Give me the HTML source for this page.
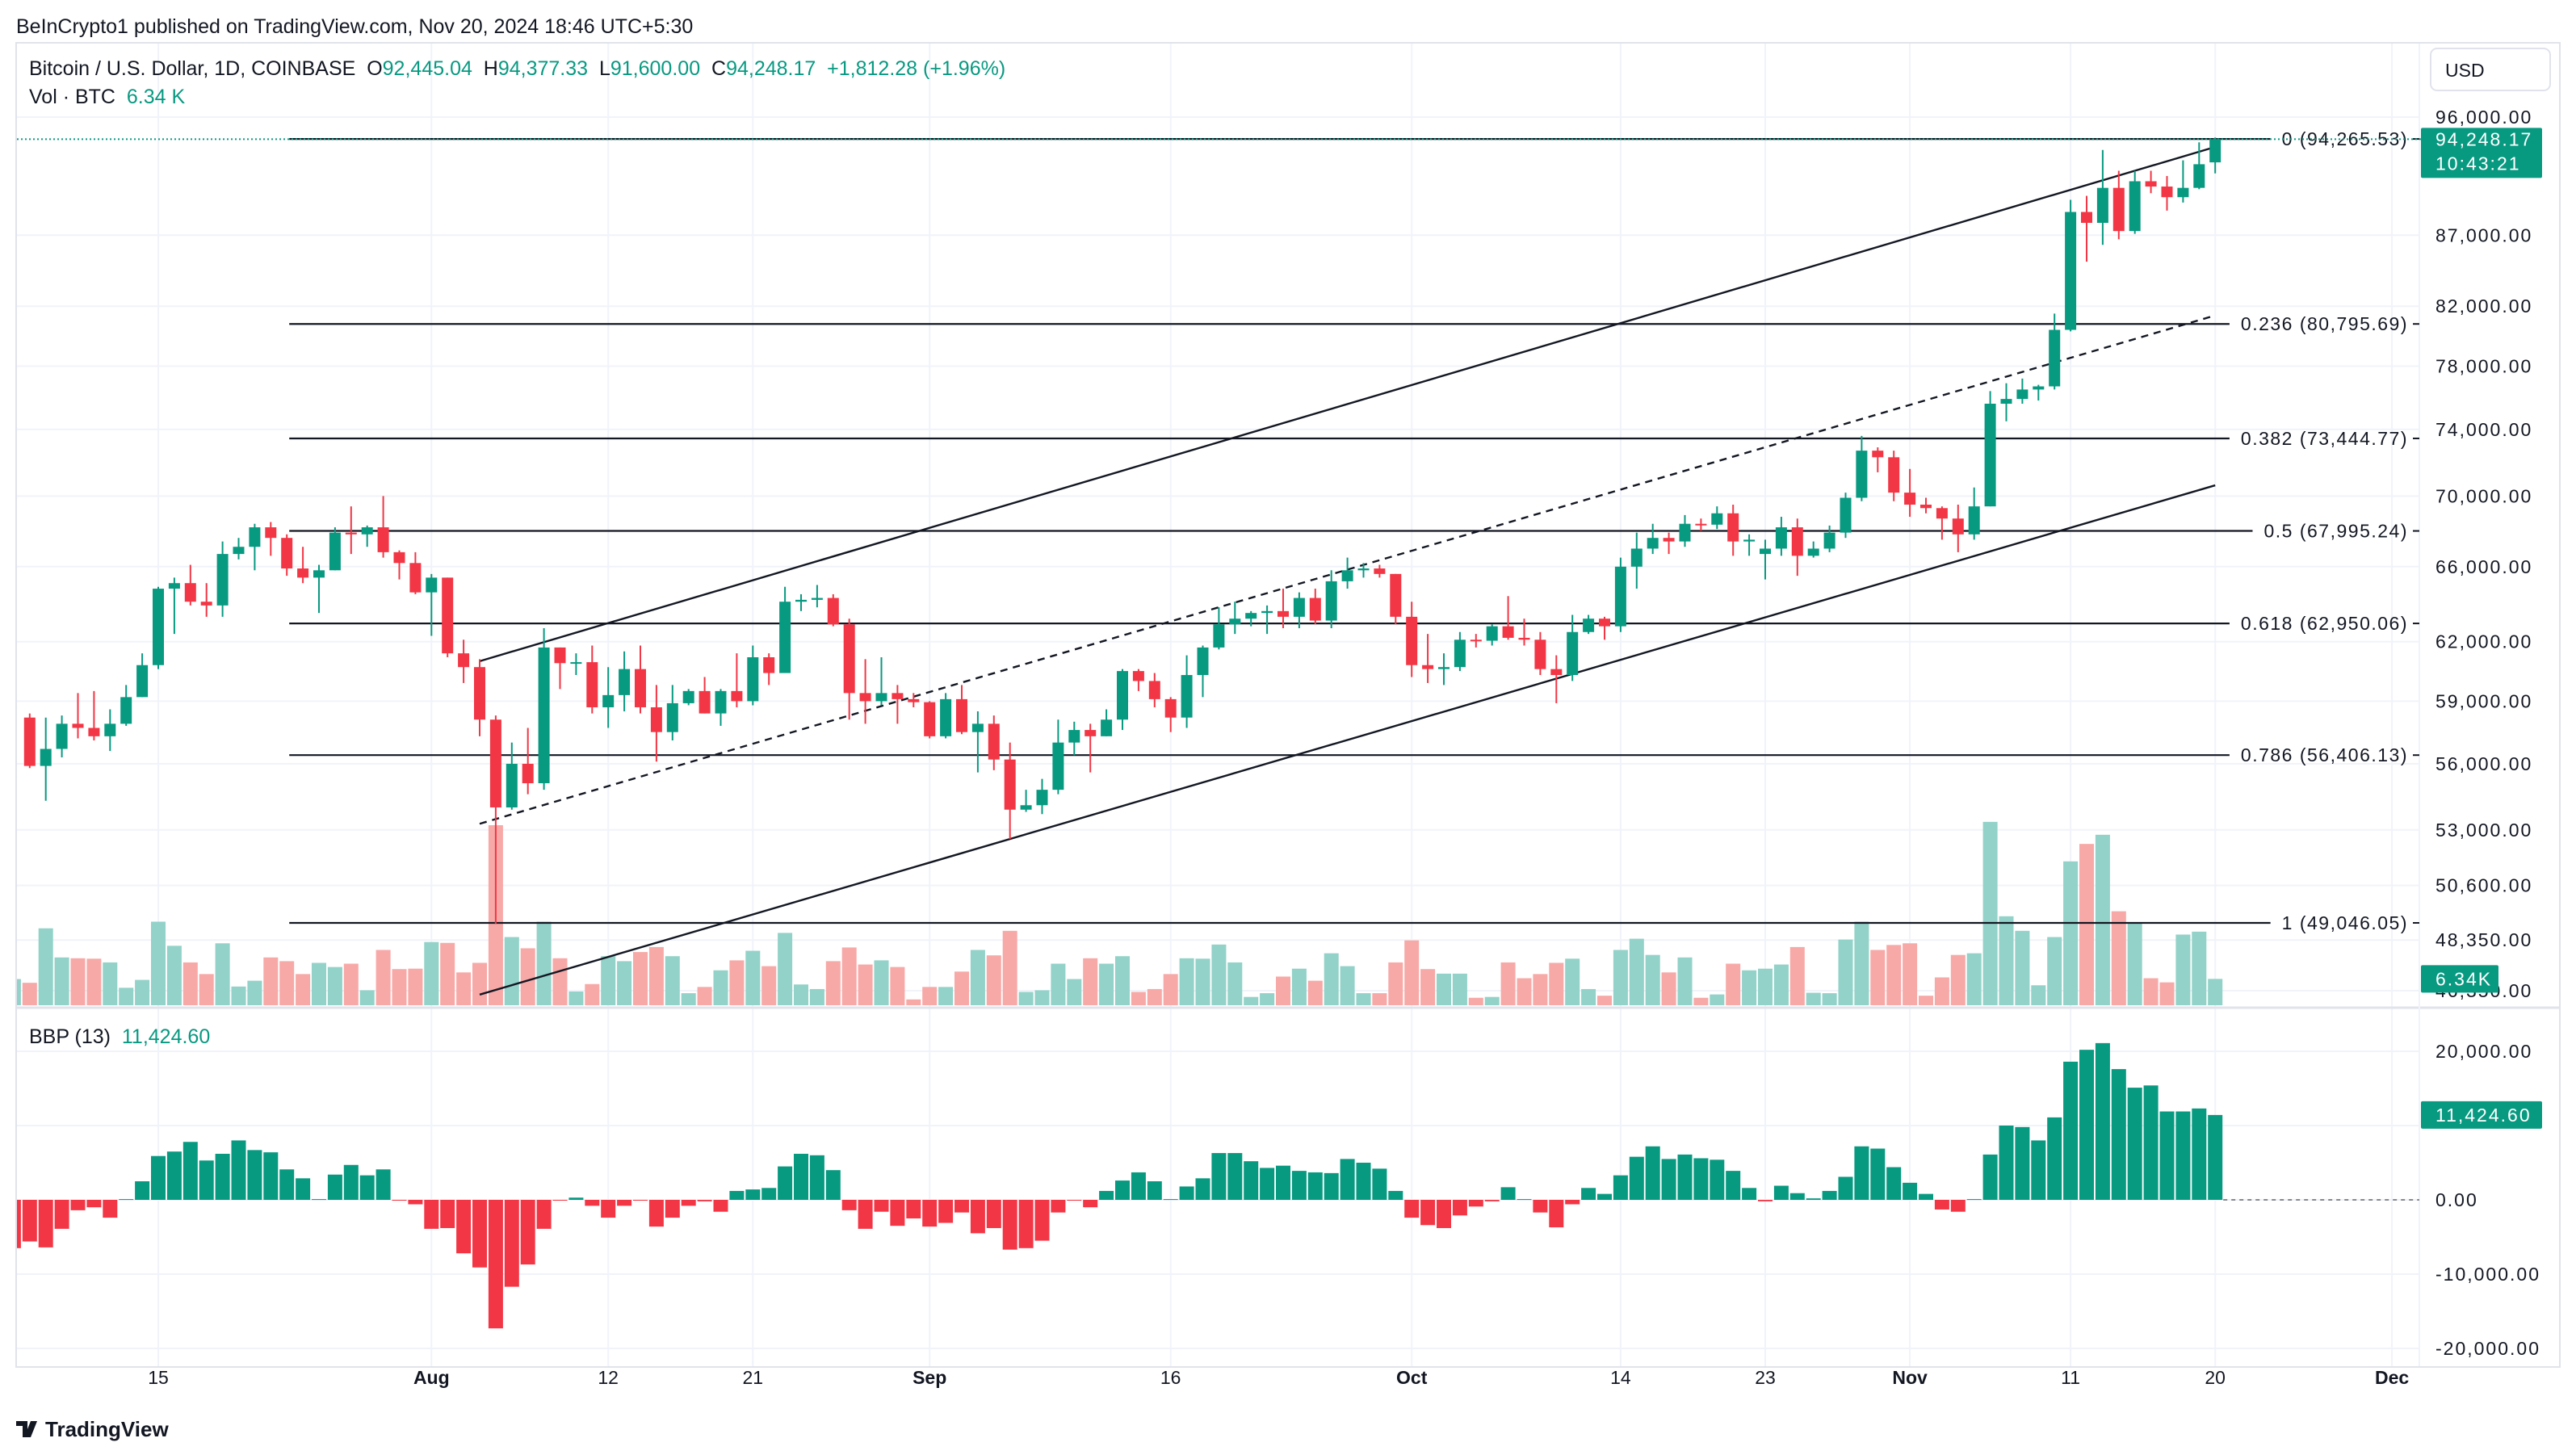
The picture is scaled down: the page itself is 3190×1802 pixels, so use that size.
<!DOCTYPE html>
<html><head><meta charset="utf-8"><style>
html,body{margin:0;padding:0;background:#fff;}
svg{display:block;font-family:"Liberation Sans",Arial,sans-serif;}
</style></head><body>
<svg id="chart" width="3190" height="1802" viewBox="0 0 3190 1802" xmlns="http://www.w3.org/2000/svg">
<rect x="0" y="0" width="3190" height="1802" fill="#ffffff"/>
<text x="20" y="41" font-size="25" fill="#131722">BeInCrypto1 published on TradingView.com, Nov 20, 2024 18:46 UTC+5:30</text>
<rect x="20" y="53" width="3150" height="1640" fill="none" stroke="#e0e3eb" stroke-width="2"/>
<g id="grid"></g>
<g id="vol"></g>
<g id="fib"></g>
<g id="trend"></g>
<g id="candles"></g>
<g id="bbp"></g>
<g id="axes"></g>
<text x="36" y="93" font-size="25" fill="#131722" xml:space="preserve">Bitcoin / U.S. Dollar, 1D, COINBASE  <tspan>O</tspan><tspan fill="#089981">92,445.04</tspan>  <tspan>H</tspan><tspan fill="#089981">94,377.33</tspan>  <tspan>L</tspan><tspan fill="#089981">91,600.00</tspan>  <tspan>C</tspan><tspan fill="#089981">94,248.17  +1,812.28 (+1.96%)</tspan></text>
<text x="36" y="128" font-size="25" fill="#131722" xml:space="preserve">Vol · BTC  <tspan fill="#089981">6.34 K</tspan></text>
<text x="36" y="1292" font-size="25" fill="#131722" xml:space="preserve">BBP (13)  <tspan fill="#089981">11,424.60</tspan></text>
<rect x="3010" y="60" width="148" height="52" rx="8" fill="#fff" stroke="#e0e3eb" stroke-width="2"/>
<text x="3028" y="95" font-size="23" fill="#131722">USD</text>
<g>
<path d="M20 1760 h14 v20 h-6 v-14 h-8z M38 1760 h8 l-8 20 h-8z" fill="#131722"/>
<text x="56" y="1779" font-size="26" font-weight="bold" fill="#131722">TradingView</text>
</g>
<script>
const startDay = -9;
const opens = [56600,58200,55900,56700,57900,57700,57300,57900,59200,
60800,64800,65100,64100,63900,66700,67100,68200,67600,65900,
65400,65800,67900,67800,68200,66800,66200,64600,65400,61400,
60700,58100,54000,56000,55100,61700,60900,60950,58700,59300,
60600,58700,57500,58900,59500,58400,59500,59000,61200,60400,
64100,64200,64300,62900,59400,59000,59400,59100,58950,57300,
59100,57500,57900,56200,53900,54100,54800,57000,57600,57300,
58100,60500,60000,59100,58200,60300,61700,62900,63200,63500,
63600,63300,64300,63100,65200,65800,65900,65600,63300,60800,
60600,60700,62100,62050,62800,62200,62100,60600,60300,62500,
63200,62800,66000,67000,67600,67400,68400,68350,69000,67400,
66700,67000,68200,66600,67000,67900,69900,72700,72300,70200,
69500,69300,68700,67800,69400,75600,75900,76500,76700,80400,
88700,87900,90500,87300,91000,90600,89800,90500,92445];
const highs = [58400,58400,58200,58300,59400,59500,58600,59800,61400,
64900,65400,66100,65100,67400,67600,68400,68500,67800,67100,
66100,68200,69400,68300,70000,66900,66800,65600,65400,62100,
61100,58300,57000,57700,62700,61700,61400,61800,60700,61500,
61800,59800,59800,59600,60200,59600,61400,61800,61400,64900,
64500,65000,64500,63200,61100,61200,59800,59400,59000,59400,
59800,58500,58300,57000,54800,55300,58100,58000,57900,58600,
60600,60600,60400,59200,61300,61800,63800,64100,63600,63900,
64800,64600,64800,65800,66500,66200,66100,65600,64100,62400,
61400,62500,62400,62900,64400,63200,62500,61300,63400,63400,
63300,66500,67900,68400,67900,68900,68700,69400,69500,67800,
67500,68800,68700,67400,68300,70200,73600,72900,72700,71600,
69900,69400,69500,70500,76400,76900,77200,76800,81500,89600,
89900,93400,91800,91800,91800,91400,92600,94000,94377];
const lows = [56100,55800,54300,56300,57200,57100,56600,57800,59200,
60600,62400,63900,63300,63300,66400,65800,66600,65500,65100,
63500,65800,66700,67100,66500,65300,64500,62300,61200,59900,
57300,49000,53900,54600,54800,59600,60300,58400,57700,58500,
58400,56100,57100,58800,58400,57800,58700,58800,59800,60400,
63600,63800,62800,58100,57900,58800,57900,58700,57200,57200,
57400,55600,55700,52600,53800,53700,54600,56400,55600,57300,
57600,59500,58700,57500,57700,59200,61600,62400,62800,62400,
62700,62700,62900,62700,64800,65400,65400,62900,60200,59900,
59800,60500,61700,61800,62100,61800,60300,58900,60000,62400,
62100,62500,64800,66700,66700,67100,68000,68100,66600,66600,
65300,66600,65500,66500,66800,67600,69700,71400,69700,68800,
69000,67500,66800,67500,69400,74500,75600,75800,76500,80300,
85100,86300,86700,87100,90100,88800,89400,90400,91600];
const closes = [58200,55900,56700,57900,57700,57300,57900,59200,60800,
64800,65100,64100,63900,66700,67100,68200,67600,65900,65400,
65800,67900,67800,68200,66800,66200,64600,65400,61400,60700,
58100,54000,56000,55100,61700,60900,60950,58700,59300,60600,
58700,57500,58900,59500,58400,59500,59000,61200,60400,64100,
64200,64300,62900,59400,59000,59400,59100,58950,57300,59100,
57500,57900,56200,53900,54100,54800,57000,57600,57300,58100,
60500,60000,59100,58200,60300,61700,62900,63200,63500,63600,
63300,64300,63100,65200,65800,65900,65600,63300,60800,60600,
60700,62100,62050,62800,62200,62100,60600,60300,62500,63200,
62800,66000,67000,67600,67400,68400,68350,69000,67400,67500,
67000,68200,66600,67000,67900,69900,72700,72300,70200,69500,
69300,68700,67800,69400,75600,75900,76500,76700,80400,88700,
87900,90500,87300,91000,90600,89800,90500,92300,94248];
const volumes = [6.3,5.4,18.5,11.5,11.3,11.2,10.3,4.2,6.1,
20.1,14.3,10.3,7.5,14.9,4.5,5.9,11.5,10.6,7.5,
10.2,9.2,10.0,3.6,13.3,8.7,8.8,15.2,15.0,7.9,
10.2,43.3,16.4,13.7,20.1,11.3,3.3,5.1,11.8,10.6,
12.8,14.0,11.8,2.9,4.4,8.4,10.8,13.1,9.4,17.4,
5.0,3.9,10.6,13.9,9.8,10.8,9.2,1.4,4.4,4.4,
8.1,13.3,12.0,17.9,3.2,3.6,10.0,6.3,11.3,10.0,
11.8,3.2,3.9,7.5,11.3,11.2,14.6,10.3,2.0,2.9,
6.9,8.8,5.9,12.5,9.4,2.9,2.9,10.3,15.6,8.7,
7.6,7.6,1.8,2.0,10.3,6.5,7.5,10.2,11.2,3.9,
2.3,13.3,16.0,12.1,7.9,11.5,1.8,2.6,10.0,8.4,
8.8,9.8,14.0,3.0,2.9,15.8,20.1,13.3,14.5,14.9,
2.3,6.7,12.1,12.5,44.1,21.4,17.9,4.8,16.4,34.6,
38.8,41.0,22.6,19.7,6.5,5.5,17.0,17.7,6.34];
const bbpValues = [-6.5,-5.6,-6.4,-3.9,-1.4,-1.0,-2.4,0.1,2.5,
5.9,6.5,7.8,5.3,6.2,8.0,6.7,6.4,4.1,2.9,
0.1,3.4,4.7,3.3,4.1,-0.1,-0.6,-3.9,-3.8,-7.2,
-9.1,-17.3,-11.7,-8.7,-3.9,-0.1,0.3,-0.8,-2.4,-0.8,
-0.1,-3.6,-2.4,-0.8,-0.2,-1.6,1.2,1.4,1.6,4.5,
6.2,6.0,4.0,-1.4,-3.9,-1.6,-3.5,-2.5,-3.6,-3.1,
-1.7,-4.5,-3.8,-6.7,-6.5,-5.5,-1.7,-0.1,-1.0,1.2,
2.6,3.7,2.5,0.1,1.8,2.9,6.3,6.3,5.2,4.3,
4.6,3.9,3.7,3.6,5.5,5.0,4.2,1.2,-2.4,-3.4,
-3.8,-2.1,-0.9,-0.2,1.7,0.1,-1.7,-3.7,-0.6,1.6,
0.8,3.3,5.8,7.2,5.5,6.1,5.6,5.4,3.9,1.6,
-0.2,1.9,0.9,0.2,1.2,3.1,7.2,6.9,4.4,2.3,
0.8,-1.3,-1.6,0.1,6.1,10.0,9.8,8.0,11.1,18.6,
20.2,21.1,17.6,15.1,15.4,11.9,11.9,12.3,11.4246];
const priceTicks = [96000,87000,82000,78000,74000,70000,66000,62000,59000,56000,53000,50600,48350,46350];
const bbpTicks = [20000,10000,0,-10000,-20000];
const bbpTickLabels = ["20,000.00","","0.00","-10,000.00","-20,000.00"];
const dateTickDays = [0,17,28,37,48,63,78,91,100,109,119,128,139];
const dateTickLabels = ["15","Aug","12","21","Sep","16","Oct","14","23","Nov","11","20","Dec"];
const dateTickBold = [false,true,false,false,true,false,true,false,false,true,false,false,true];
const fibLevels = ["0","0.236","0.382","0.5","0.618","0.786","1"];
const fibPrices = [94265.53,80795.69,73444.77,67995.24,62950.06,56406.13,49046.05];
const fibStartDay = 8;
const channelDays = [20,128];
const upperChannel = [61000,93640];
const midChannel = [53270,81370];
const lowerChannel = [46200,70630];
const lastPrice = 94248.17;
const lastVolumeLabel = "6.34K";
const lastBbpLabel = "11,424.60";

const NS = "http://www.w3.org/2000/svg";
const X0 = 196, DX = 19.9;
const xOf = d => X0 + DX * d;
const yOf = p => 145 + 1486 * (Math.log(96000) - Math.log(p));
const VOL_BASE = 1245, VOL_K = 5.15;
const yVol = v => VOL_BASE - v * VOL_K;
const BBP_ZERO = 1486, BBP_SCALE = 0.0092;
const yBbp = v => BBP_ZERO - v * BBP_SCALE;
const PLOT_L = 21, PLOT_R = 2996;
const UP = "#089981", DN = "#f23645";
const AX_X = 3016, TAG_X = 2998;
const FIB_END = 2982;

function mk(tag, attrs, parent) {
  const e = document.createElementNS(NS, tag);
  for (const k in attrs) e.setAttribute(k, attrs[k]);
  parent.appendChild(e);
  return e;
}
const gGrid = document.getElementById("grid");
const gVol = document.getElementById("vol");
const gFib = document.getElementById("fib");
const gTrend = document.getElementById("trend");
const gC = document.getElementById("candles");
const gB = document.getElementById("bbp");
const gAx = document.getElementById("axes");

priceTicks.forEach(p => {
  const l = mk("line", {x1: PLOT_L, x2: PLOT_R, y1: yOf(p), y2: yOf(p), stroke: "#f0f3fa", "stroke-width": 2}, gGrid);
  
  
});
bbpTicks.forEach(v => {
  const l = mk("line", {x1: PLOT_L, x2: PLOT_R, y1: yBbp(v), y2: yBbp(v), stroke: "#f0f3fa", "stroke-width": 2}, gGrid);
  
  
});
dateTickDays.forEach(d => {
  const l = mk("line", {x1: xOf(d), x2: xOf(d), y1: 54, y2: 1692, stroke: "#f0f3fa", "stroke-width": 2}, gGrid);
  
  
});
const sep = mk("line", {x1: 20, x2: 3170, y1: 1248, y2: 1248, stroke: "#e0e3eb", "stroke-width": 3}, gGrid);


const axSep = mk("line", {x1: PLOT_R, x2: PLOT_R, y1: 54, y2: 1692, stroke: "#f0f3fa", "stroke-width": 2}, gGrid);



volumes.forEach((v, i) => {
  const d = startDay + i;
  const up = closes[i] >= opens[i];
  const x = Math.max(PLOT_L, xOf(d) - 9);
  const w = xOf(d) + 9 - x;
  const r = mk("rect", {x: x, y: yVol(v), width: w, height: VOL_BASE - yVol(v), fill: up ? "#92d2c8" : "#f7a9a7"}, gVol);
  
  
});

fibLevels.forEach((lv, i) => {
  const y = yOf(fibPrices[i]);
  const label = lv + " (" + fibPrices[i].toLocaleString("en-US", {minimumFractionDigits: 2, maximumFractionDigits: 2}) + ")";
  const t = mk("text", {x: FIB_END, y: y + 8, "font-size": 23, "text-anchor": "end", fill: "#131722", "letter-spacing": "1.5"}, gFib);
  t.textContent = label;
  
  
  let tw = label.length * 13.5;
  try { tw = t.getComputedTextLength() || tw; } catch (e) {}
  const l = mk("line", {x1: xOf(fibStartDay) + 3, x2: FIB_END - tw - 14, y1: y, y2: y, stroke: "#131722", "stroke-width": 2.2}, gFib);
  
  
  const dsh = mk("line", {x1: FIB_END + 6, x2: FIB_END + 14, y1: y, y2: y, stroke: "#131722", "stroke-width": 2}, gFib);
  
  
});
const lp = mk("line", {x1: PLOT_L, x2: TAG_X, y1: yOf(lastPrice), y2: yOf(lastPrice), stroke: UP, "stroke-width": 2, "stroke-dasharray": "2 3"}, gFib);



[[upperChannel, "upper-channel-line", null], [midChannel, "mid-channel-line", "9 7"], [lowerChannel, "lower-channel-line", null]].forEach(([pr, nm, dash]) => {
  const a = {x1: xOf(channelDays[0]), y1: yOf(pr[0]), x2: xOf(channelDays[1]), y2: yOf(pr[1]), stroke: "#131722", "stroke-width": 2.4};
  if (dash) a["stroke-dasharray"] = dash;
  const l = mk("line", a, gTrend);
  
  
});

opens.forEach((o, i) => {
  const d = startDay + i;
  const c = closes[i], up = c >= o, col = up ? UP : DN;
  const x = xOf(d);
  if (x < PLOT_L) return;
  const g = mk("g", {}, gC);
  
  
  mk("line", {x1: x, x2: x, y1: yOf(highs[i]), y2: yOf(lows[i]), stroke: col, "stroke-width": 2}, g);
  const yt = yOf(Math.max(o, c)), yb = yOf(Math.min(o, c));
  mk("rect", {x: x - 7, y: yt, width: 14, height: Math.max(2, yb - yt), fill: col}, g);
});

bbpValues.forEach((v, i) => {
  const d = startDay + i;
  const x = Math.max(PLOT_L, xOf(d) - 9);
  const w = xOf(d) + 9 - x;
  const val = v * 1000;
  const y1 = Math.min(yBbp(val), BBP_ZERO), y2 = Math.max(yBbp(val), BBP_ZERO);
  const r = mk("rect", {x: x, y: y1, width: w, height: Math.max(1, y2 - y1), fill: val >= 0 ? UP : DN}, gB);
  
  
});
const zl = mk("line", {x1: xOf(128) + 10, x2: PLOT_R, y1: BBP_ZERO, y2: BBP_ZERO, stroke: "#868993", "stroke-width": 2, "stroke-dasharray": "5 5"}, gB);



priceTicks.forEach(p => {
  const t = mk("text", {x: AX_X, y: yOf(p) + 8, "font-size": 23, fill: "#131722", "letter-spacing": "2"}, gAx);
  t.textContent = p.toLocaleString("en-US", {minimumFractionDigits: 2});
  
  
});
bbpTicks.forEach((v, i) => {
  if (!bbpTickLabels[i]) return;
  const t = mk("text", {x: AX_X, y: yBbp(v) + 8, "font-size": 23, fill: "#131722", "letter-spacing": "2"}, gAx);
  t.textContent = bbpTickLabels[i];
  
  
});
dateTickDays.forEach((d, i) => {
  const t = mk("text", {x: xOf(d), y: 1714, "font-size": 23, "text-anchor": "middle", fill: "#131722", "font-weight": dateTickBold[i] ? "bold" : "normal"}, gAx);
  t.textContent = dateTickLabels[i];
  
  
});
const ly = yOf(lastPrice);
const tag = mk("rect", {x: TAG_X, y: ly - 14, width: 150, height: 62, fill: UP, rx: 2}, gAx);


const t1 = mk("text", {x: AX_X, y: ly + 8, "font-size": 23, fill: "#fff", "letter-spacing": "2"}, gAx);
t1.textContent = lastPrice.toLocaleString("en-US", {minimumFractionDigits: 2});


const t2 = mk("text", {x: AX_X, y: ly + 38, "font-size": 23, fill: "#fff", "letter-spacing": "2"}, gAx);
t2.textContent = "10:43:21";


const vy = yVol(volumes[volumes.length - 1]);
const vtag = mk("rect", {x: TAG_X, y: vy - 17, width: 96, height: 34, fill: UP, rx: 2}, gAx);


const vt = mk("text", {x: AX_X, y: vy + 8, "font-size": 23, fill: "#fff", "letter-spacing": "2"}, gAx);
vt.textContent = lastVolumeLabel;


const by = yBbp(bbpValues[bbpValues.length - 1] * 1000);
const btag = mk("rect", {x: TAG_X, y: by - 17, width: 150, height: 34, fill: UP, rx: 2}, gAx);


const bt = mk("text", {x: AX_X, y: by + 8, "font-size": 23, fill: "#fff", "letter-spacing": "2"}, gAx);
bt.textContent = lastBbpLabel;


</script>
</svg>
</body></html>
